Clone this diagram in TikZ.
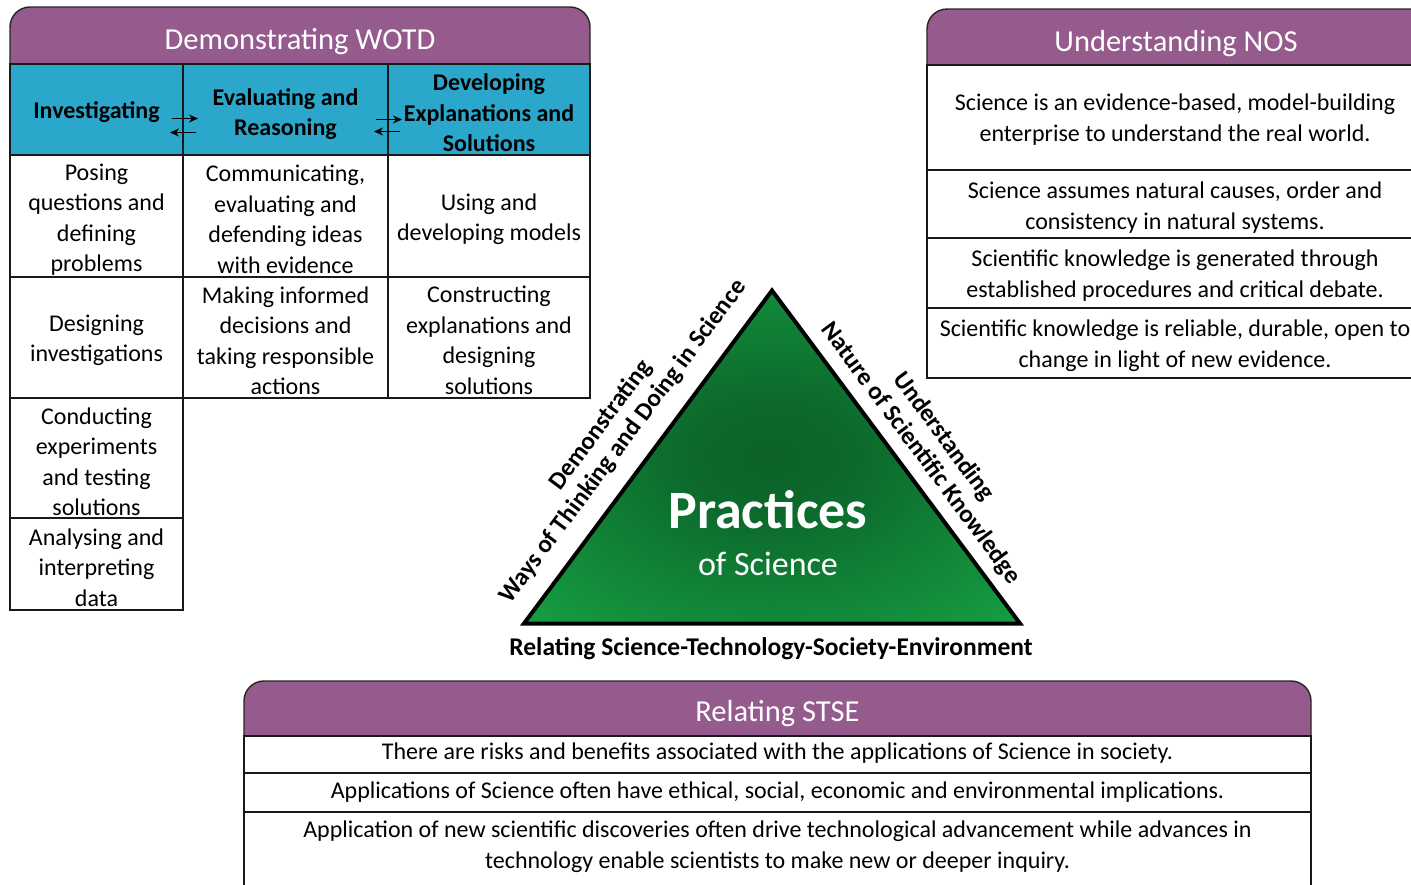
\documentclass[tikz,border=0pt]{standalone}
\usepackage{fontspec}
\setmainfont{Carlito}
\usetikzlibrary{arrows.meta}
\definecolor{hdrpurple}{HTML}{955B8C}
\definecolor{hdrblue}{HTML}{2AA7CA}
\definecolor{gdark}{HTML}{0B6229}
\definecolor{glight}{HTML}{16A043}
\pgfdeclareradialshading{trishade}{\pgfpoint{0bp}{0bp}}{color(0bp)=(gdark); color(8bp)=(gdark!90!glight); color(36bp)=(glight); color(50bp)=(glight)}
\begin{document}
\begin{tikzpicture}[x=1pt,y=-1pt,
  every node/.append style={yshift=-2.5pt},
  grid/.style={draw=black!90, line width=1.6pt},
  hdr/.style={fill=hdrpurple, draw=black!85, line width=1.4pt, rounded corners=20pt},
  title/.style={text=white, inner sep=0pt, font=\fontsize{30.5}{34}\selectfont},
  cell/.style={align=center, inner sep=0pt, font=\fontsize{24}{30.5}\selectfont},
  bcell/.style={align=center, inner sep=0pt, font=\bfseries\fontsize{24}{30.5}\selectfont},
  nos/.style={align=center, inner sep=0pt, font=\fontsize{24}{31}\selectfont},
  stse/.style={align=center, inner sep=0pt, font=\fontsize{24}{31}\selectfont},
  side/.style={align=center, inner sep=0pt, font=\bfseries\fontsize{25}{28}\selectfont},
  arr/.style={line width=1.4pt, -{Stealth[length=9pt,width=8pt]}}
]
\useasboundingbox (0,0) rectangle (1411,884);

% ---------------- WOTD ----------------
\draw[hdr] (10,7) rectangle (590,95);
\node[title] (wotdT) at (300,39) {Demonstrating WOTD};
\fill[hdrblue] (10,64) rectangle (590,155);
\fill[white] (10,155) rectangle (590,398);
\fill[white] (10,398) rectangle (183,610);
\draw[grid] (10,64) rectangle (590,398);
\draw[grid] (10,155) -- (590,155);
\draw[grid] (10,277) -- (590,277);
\draw[grid] (183,64) -- (183,398);
\draw[grid] (388,64) -- (388,398);
\draw[grid] (10,398) -- (10,610) -- (183,610) -- (183,398);
\draw[grid] (10,518) -- (183,518);

\node[bcell] (inv) at (96.5,110) {Investigating};
\node[bcell] (evr) at (285.5,111.5) {Evaluating and\\Reasoning};
\node[bcell] (dev) at (489,110.5) {Developing\\Explanations and\\Solutions};

\node[cell] (pose) at (96.5,217) {Posing\\questions and\\defining\\problems};
\node[cell] (desi) at (96.5,338) {Designing\\investigations};
\node[cell] (cond) at (96.5,459) {Conducting\\experiments\\and testing\\solutions};
\node[cell] (anal) at (96.5,565) {Analysing and\\interpreting\\data};
\node[cell] (comm) at (285.5,217) {Communicating,\\evaluating and\\defending ideas\\with evidence};
\node[cell] (make) at (285.5,338) {Making informed\\decisions and\\taking responsible\\actions};
\node[cell] (usin) at (489,216.5) {Using and\\developing models};
\node[cell] (cons) at (489,338) {Constructing\\explanations and\\designing\\solutions};

\coordinate (a1s) at (172,116); \coordinate (a1e) at (198,116);
\coordinate (a2s) at (196,130); \coordinate (a2e) at (170,130);
\coordinate (a3s) at (376,117); \coordinate (a3e) at (402,117);
\coordinate (a4s) at (400,129); \coordinate (a4e) at (374,129);
\draw[arr] (a1s) -- (a1e);
\draw[arr] (a2s) -- (a2e);
\draw[arr] (a3s) -- (a3e);
\draw[arr] (a4s) -- (a4e);

% ---------------- NOS ----------------
\draw[hdr] (927,9) rectangle (1450,95);
\node[title] (nosT) at (1176,41) {Understanding NOS};
\fill[white] (927,65) rectangle (1450,378);
\draw[grid] (1450,65) -- (927,65) -- (927,378) -- (1450,378);
\draw[grid] (927,170) -- (1450,170);
\draw[grid] (927,238) -- (1450,238);
\draw[grid] (927,308) -- (1450,308);
\node[nos] (nos1) at (1175,117.5) {Science is an evidence-based, model-building\\enterprise to understand the real world.};
\node[nos] (nos2) at (1175,205.5) {Science assumes natural causes, order and\\consistency in natural systems.};
\node[nos] (nos3) at (1175,273.5) {Scientific knowledge is generated through\\established procedures and critical debate.};
\node[nos] (nos4) at (1175,343.5) {Scientific knowledge is reliable, durable, open to\\change in light of new evidence.};

% ---------------- Triangle ----------------
\coordinate (apex) at (772,288);
\coordinate (bl) at (524,621);
\coordinate (br) at (1020,621);
\path[shading=trishade] (apex) -- (bl) -- (br) -- cycle;
\draw[line width=4pt, line join=miter] (apex) -- (bl) -- (br) -- cycle;
\node[text=white, inner sep=0pt, font=\bfseries\fontsize{54}{58}\selectfont] (prac) at (768,507) {Practices};
\node[text=white, inner sep=0pt, font=\fontsize{34}{38}\selectfont] (ofsci) at (768,561) {of Science};
\node[side, rotate=53.4, yshift=0pt] (lside) at (612,431) {Demonstrating\\Ways of Thinking and Doing in Science};
\node[side, rotate=-53.4, yshift=0pt] (rside) at (932,442.5) {Understanding\\Nature of Scientific Knowledge};
\node[inner sep=0pt, font=\bfseries\fontsize{25.5}{28}\selectfont] (bside) at (771,646) {Relating Science-Technology-Society-Environment};

% ---------------- STSE ----------------
\draw[hdr] (244,681) rectangle (1311,760);
\node[title] (stseT) at (777.5,711) {Relating STSE};
\fill[white] (244,736) rectangle (1311,900);
\draw[grid] (244,900) -- (244,736) -- (1311,736) -- (1311,900);
\draw[grid] (244,773) -- (1311,773);
\draw[grid] (244,812) -- (1311,812);
\node[stse] (st1) at (777.5,751) {There are risks and benefits associated with the applications of Science in society.};
\node[stse] (st2) at (777.5,790) {Applications of Science often have ethical, social, economic and environmental implications.};
\node[stse] (st3) at (777.5,844.5) {Application of new scientific discoveries often drive technological advancement while advances in\\technology enable scientists to make new or deeper inquiry.};
\end{tikzpicture}
\end{document}
